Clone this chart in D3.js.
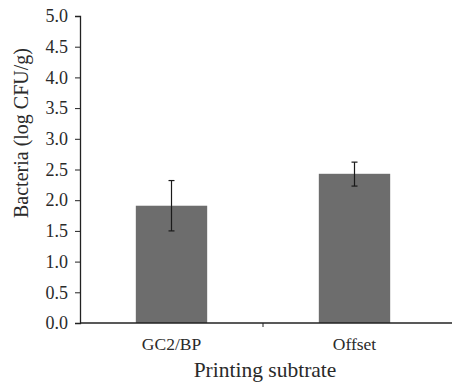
<!DOCTYPE html>
<html><head><meta charset="utf-8">
<script src="https://cdn.jsdelivr.net/npm/d3@7"></script>
<style>body{margin:0;background:#fff}svg{display:block}text{font-family:"Liberation Serif",serif;fill:#2a2a2a}</style>
</head><body><svg id="c" width="452" height="382"></svg>
<script>
const categories = ["GC2/BP", "Offset"];
const values = [1.91, 2.43];
const errLow = [1.50, 2.23];
const errHigh = [2.32, 2.62];
const yTicks = [0,0.5,1,1.5,2,2.5,3,3.5,4,4.5,5];

const svg = d3.select("#c");
const m = {l:80, r:6, t:16, b:59};
const W = 452, H = 382;
const x = d3.scaleBand().domain(categories).range([m.l, W - m.r]).paddingInner(0.61).paddingOuter(0.305);
const y = d3.scaleLinear().domain([0,5]).range([H - m.b, m.t]);

// bars
svg.selectAll("rect.bar").data(categories).join("rect")
  .attr("x", d => x(d)).attr("width", x.bandwidth())
  .attr("y", (d,i) => y(values[i])).attr("height", (d,i) => y(0) - y(values[i]))
  .attr("fill", "#6d6d6d");

// error bars
const eb = svg.append("g").attr("stroke", "#1a1a1a").attr("stroke-width", 1.2);
categories.forEach((c,i) => {
  const cx = x(c) + x.bandwidth()/2;
  eb.append("line").attr("x1", cx).attr("x2", cx).attr("y1", y(errLow[i])).attr("y2", y(errHigh[i]));
  eb.append("line").attr("x1", cx-3).attr("x2", cx+3).attr("y1", y(errLow[i])).attr("y2", y(errLow[i]));
  eb.append("line").attr("x1", cx-3).attr("x2", cx+3).attr("y1", y(errHigh[i])).attr("y2", y(errHigh[i]));
});

// y axis
const ya = svg.append("g").attr("transform", `translate(${m.l},0)`)
  .call(d3.axisLeft(y).tickValues(yTicks).tickFormat(d3.format(".1f")).tickSize(5).tickPadding(7));
ya.select(".domain").attr("stroke", "#222").attr("stroke-width", 1.3);
ya.selectAll(".tick line").attr("stroke", "#222");
ya.selectAll("text").attr("font-size", 18).attr("font-family", "Liberation Serif").attr("fill", "#2a2a2a");

// x axis
const xa = svg.append("g").attr("transform", `translate(0,${y(0)})`);
xa.append("line").attr("x1", m.l).attr("x2", W).attr("y1", 0).attr("y2", 0).attr("stroke", "#222").attr("stroke-width", 1.6);
const mid = (x(categories[0]) + x(categories[1]) + x.bandwidth())/2;
xa.append("line").attr("x1", mid).attr("x2", mid).attr("y1", 0).attr("y2", 4).attr("stroke", "#222");
xa.selectAll("text.cat").data(categories).join("text")
  .attr("x", d => x(d) + x.bandwidth()/2).attr("y", 27)
  .attr("text-anchor", "middle").attr("font-size", 17.5).text(d => d);

svg.append("text").attr("x", 265).attr("y", 377)
  .attr("text-anchor", "middle").attr("font-size", 21.5).text("Printing subtrate");
svg.append("text").attr("transform", `translate(28,133) rotate(-90)`)
  .attr("text-anchor", "middle").attr("font-size", 20).text("Bacteria (log CFU/g)");
</script></body></html>
